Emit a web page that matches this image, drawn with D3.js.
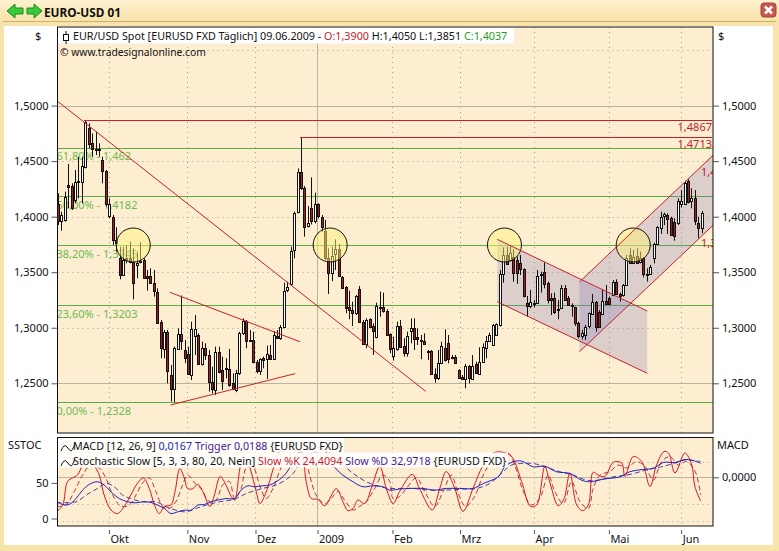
<!DOCTYPE html>
<html><head><meta charset="utf-8">
<script src="https://cdn.jsdelivr.net/npm/d3@7"></script>
<style>
html,body{margin:0;padding:0;background:#fff;overflow:hidden}
svg{display:block}
text{font-family:"Noto Sans",sans-serif;font-size:11px;fill:#111}
</style></head><body><svg id="c" width="779" height="551"></svg>
<script>
const barOpen=[1.411,1.396,1.397,1.4285,1.4276,1.415,1.431,1.4315,1.4441,1.48,
1.466,1.4606,1.461,1.451,1.441,1.40,1.40,1.379,1.363,1.3475,
1.363,1.363,1.359,1.356,1.36,1.361,1.347,1.347,1.34,1.3325,
1.305,1.2815,1.2965,1.2575,1.245,1.2809,1.294,1.28,1.276,1.258,
1.293,1.2935,1.267,1.2815,1.2755,1.251,1.244,1.2785,1.262,1.2635,
1.263,1.25,1.244,1.259,1.295,1.306,1.289,1.289,1.269,1.2605,
1.2725,1.2719,1.2755,1.2719,1.293,1.291,1.301,1.3334,1.3394,1.37,
1.4036,1.4399,1.4255,1.3916,1.4075,1.3955,1.411,1.40,1.387,1.363,
1.3496,1.3664,1.3706,1.346,1.337,1.3184,1.316,1.313,1.3349,1.3055,
1.2854,1.3076,1.3016,1.2914,1.319,1.3184,1.3154,1.2941,1.2746,1.2815,
1.3019,1.2836,1.2776,1.2971,1.3001,1.2914,1.289,1.2884,1.279,1.279,
1.2584,1.2545,1.268,1.2815,1.286,1.2725,1.2734,1.262,1.256,1.2539,
1.2656,1.2545,1.2671,1.259,1.2695,1.2824,1.2884,1.2845,1.2935,1.3025,
1.3481,1.3655,1.3604,1.3634,1.361,1.358,1.3526,1.322,1.3196,1.322,
1.3226,1.3481,1.3505,1.3406,1.3265,1.3265,1.3166,1.3184,1.3361,1.3265,
1.3205,1.3184,1.304,1.2926,1.2935,1.301,1.313,1.3235,1.3145,1.313,
1.3244,1.3271,1.3295,1.3409,1.3304,1.3295,1.3385,1.3655,1.3586,1.3646,
1.3586,1.3625,1.3484,1.3484,1.3625,1.3754,1.3904,1.4006,1.4015,1.3991,
1.3955,1.3946,1.412,1.412,1.4324,1.4135,1.4165,1.394,1.39];
const barHigh=[1.421,1.4045,1.4225,1.4474,1.43,1.442,1.454,1.454,1.4867,1.484,
1.475,1.4765,1.466,1.454,1.442,1.4165,1.4015,1.3904,1.373,1.373,
1.374,1.3775,1.3715,1.3685,1.377,1.3625,1.352,1.3535,1.352,1.3355,
1.307,1.298,1.298,1.2665,1.283,1.2995,1.329,1.289,1.283,1.3055,
1.3115,1.295,1.2875,1.286,1.28,1.265,1.283,1.283,1.274,1.2725,
1.281,1.259,1.262,1.2965,1.3085,1.307,1.298,1.2965,1.271,1.2725,
1.274,1.284,1.2845,1.297,1.298,1.3025,1.3406,1.3415,1.373,1.4045,
1.4435,1.4713,1.4275,1.4096,1.4354,1.4216,1.412,1.4015,1.397,1.3715,
1.373,1.3796,1.3754,1.3466,1.3376,1.3334,1.3235,1.3295,1.3376,1.307,
1.3085,1.3085,1.304,1.3226,1.3325,1.3316,1.3166,1.295,1.292,1.3055,
1.307,1.2905,1.2965,1.3085,1.3085,1.2995,1.2935,1.295,1.28,1.28,
1.2635,1.28,1.2875,1.2986,1.2935,1.2755,1.2755,1.2626,1.2575,1.2674,
1.2665,1.2755,1.2695,1.2824,1.286,1.2926,1.2956,1.3034,1.304,1.352,
1.3724,1.373,1.3736,1.3706,1.364,1.3655,1.3535,1.3286,1.334,1.325,
1.352,1.3505,1.3589,1.3415,1.331,1.3316,1.325,1.3385,1.3385,1.3286,
1.322,1.319,1.3055,1.298,1.3025,1.3136,1.3304,1.3241,1.316,1.334,
1.3385,1.328,1.343,1.3436,1.3316,1.3395,1.3655,1.3715,1.37,1.3715,
1.3685,1.3634,1.3535,1.3565,1.3766,1.3916,1.4045,1.4036,1.403,1.40,
1.3985,1.4165,1.424,1.4324,1.4336,1.4255,1.424,1.40,1.405];
const barLow=[1.3925,1.3874,1.3955,1.4075,1.406,1.412,1.4165,1.412,1.4435,1.4615,
1.454,1.4555,1.454,1.43,1.409,1.3985,1.3745,1.3685,1.3436,1.347,
1.358,1.358,1.3256,1.3445,1.358,1.3445,1.3334,1.34,1.328,1.304,
1.2725,1.2725,1.25,1.2335,1.233,1.28,1.28,1.268,1.2575,1.253,
1.2755,1.2665,1.266,1.271,1.2425,1.241,1.2395,1.259,1.244,1.2545,
1.247,1.244,1.242,1.2575,1.2935,1.2815,1.2875,1.268,1.259,1.2575,
1.2635,1.2539,1.271,1.271,1.2905,1.289,1.2995,1.332,1.338,1.3625,
1.403,1.424,1.382,1.3904,1.393,1.394,1.3985,1.3865,1.361,1.3304,
1.342,1.352,1.346,1.3355,1.313,1.3076,1.3016,1.3115,1.3046,1.2845,
1.2815,1.2995,1.2755,1.2905,1.31,1.3136,1.2926,1.277,1.2704,1.2794,
1.2821,1.274,1.274,1.286,1.28,1.2845,1.2716,1.2845,1.271,1.2575,
1.2506,1.253,1.2674,1.2695,1.268,1.2716,1.2674,1.2539,1.253,1.2455,
1.25,1.253,1.2584,1.2584,1.2686,1.2725,1.2875,1.2845,1.2929,1.301,
1.3406,1.3565,1.3595,1.3415,1.3394,1.3475,1.3274,1.31,1.3175,1.3184,
1.322,1.3316,1.3355,1.322,1.3115,1.3124,1.3076,1.3175,1.325,1.3196,
1.31,1.3016,1.2905,1.2896,1.289,1.2995,1.3115,1.2965,1.3,1.3124,
1.3205,1.3205,1.3285,1.3295,1.3235,1.328,1.3376,1.358,1.3574,1.358,
1.358,1.3454,1.3415,1.3475,1.358,1.3745,1.3844,1.3925,1.3844,1.3826,
1.3784,1.3925,1.4084,1.4105,1.412,1.4075,1.3925,1.3805,1.3851];
const barClose=[1.3955,1.4015,1.418,1.427,1.4075,1.4315,1.432,1.4459,1.4849,1.466,
1.4606,1.46,1.46,1.441,1.411,1.411,1.379,1.3766,1.348,1.361,
1.3616,1.3595,1.34,1.358,1.359,1.345,1.3454,1.3406,1.3325,1.305,
1.2815,1.2965,1.2614,1.245,1.2815,1.294,1.288,1.2725,1.258,1.299,
1.299,1.267,1.2815,1.2755,1.251,1.245,1.2785,1.2605,1.252,1.2626,
1.2485,1.245,1.259,1.295,1.306,1.288,1.288,1.269,1.2605,1.2715,
1.271,1.2761,1.2719,1.2935,1.2914,1.301,1.3334,1.3364,1.3694,1.4036,
1.4399,1.4255,1.3904,1.3946,1.3955,1.411,1.40,1.391,1.363,1.3496,
1.3649,1.3706,1.3466,1.3361,1.3184,1.3154,1.313,1.3286,1.3055,1.2854,
1.307,1.3004,1.2974,1.3196,1.3181,1.3145,1.2935,1.2806,1.2815,1.3019,
1.283,1.2776,1.2929,1.2995,1.2905,1.2896,1.2884,1.2854,1.2785,1.258,
1.2545,1.268,1.2836,1.2704,1.2716,1.2734,1.268,1.2545,1.2545,1.2659,
1.2545,1.2659,1.259,1.2695,1.283,1.2884,1.2935,1.3025,1.3034,1.3481,
1.3655,1.3574,1.367,1.349,1.349,1.3526,1.328,1.319,1.3235,1.3226,
1.3466,1.3469,1.34,1.325,1.325,1.3136,1.3154,1.3361,1.325,1.3205,
1.3196,1.304,1.2926,1.295,1.301,1.313,1.3235,1.301,1.301,1.3244,
1.3214,1.322,1.3409,1.3304,1.3286,1.3385,1.3625,1.3586,1.364,1.3586,
1.3625,1.3484,1.3472,1.355,1.3754,1.3904,1.40,1.4024,1.3976,1.3835,
1.3829,1.4144,1.4144,1.4306,1.4135,1.4165,1.3955,1.3895,1.4037];

const kBars=[0.6,2.4,3.8,5.3,6.7,8.2,10.2,11.6,13.1,14.5,16.5,18.4,20.4,22.3,24.3,26,27.7,29.2,30.6,32.1,34,35.2,36.6,37.9,38.9,40.4,41.8,43.3,45.4,46.7,48.4,50.1,51.6,52.6,54,55,56.4,57.4,58.9,60,61.3,62.8,64.2,65.7,67.2,69.6,72,73.5,75,76.9,78.9,82.3,84.2,85.7,87.2,88.6,90.6,92.5,95,96.9,98.9,100.8,104.5,106.6,110.3,112.5,114.4,116.9,119.3,122.2,125.2,128.1,131,133.5,136.4,139,140.8,143.2,144.7,147.1,148.8,150.5,152.5,154.2,155.9,157.3,158.8,160.7,163.2,165.6,166.6,169,171.5,173.9,175.8,178,179.3,181.2,184.1,186.1,187,188.7];
const kVals=[9,19,52,57,61,75,89,75,61,33,12,7,17,33,50,57,42,19,7,17,19,38,70,57,42,42,48,38,17,33,59,47,31,26,66,89,80,66,38,21,31,52,75,94,96,97,94,52,28,27,18,42,24,11,14,26,21,42,73,42,21,38,62,42,12,42,66,42,10,42,75,92,93,87,52,17,19,73,50,18,28,64,19,11,19,65,61,59,79,78,59,87,80,45,75,94,92,64,92,75,45,24.4];
const dBars=[0.6,3.3,5.8,8.2,10.6,13.1,15,17,19.4,21.9,23.8,25.75,27.7,29.6,31.6,33.5,35.5,37.4,38.9,40.9,42.8,45.2,47.2,49.1,51.1,52.6,54.5,56,57.9,59.9,61.8,63.8,65.7,67.7,70.1,72.5,74.5,76.4,78.9,80.8,82.8,84.7,87.2,89.1,91.1,93.5,95.9,97.9,98.9,100.8,102.7,105.7,108.1,111,113.5,115.9,117.9,120.1,122.7,125.2,129.1,132.5,134.4,136.9,139.3,141.7,144.2,146.1,148.6,151,153.4,155.9,157.3,159.3,162.2,164.6,167.1,170,172.4,174.9,177.3,179.8,182.2,184.6,187.1,188.7];
const dVals=[17,19,38,61,75,71,57,33,17,19,33,50,57,38,17,14,24,47,61,50,42,24,26,47,52,28,42,71,73,47,28,42,66,85,94,99,61,33,21,28,38,26,12,17,24,42,61,52,28,31,42,57,38,17,38,61,35,17,31,61,89,92,75,38,19,28,61,38,21,52,24,14,42,61,66,75,71,80,73,54,80,87,75,80,66,33];
const macdBars=[0.6,2.4,4.3,6.3,8.2,10.6,12.6,14.5,16.5,18.9,21.4,23.8,25.75,28.2,30.1,32.1,34,36,37.9,39.9,41.8,43.8,45.7,47.7,50.1,52.6,54.5,56.5,58.4,60.8,62.8,64.7,66.7,68.6,70.6,72.5,75.5,78.4,81.3,84.2,87.2,90.1,93,95.9,97.9,100.8,103.7,107.6,111,114.4,118.3,122.2,125.2,129.6,131.5,133.9,136.4,139.8,143.2,146.6,150.5,153.9,156.3,160.2,165.1,168,171.9,174.9,177.8,181.2,184.1,186.1,188.7];
const macdVals=[-.0292,-.0324,-.0324,-.0253,-.0153,-.0074,-.0054,-.0093,-.0173,-.0253,-.0292,-.0304,-.0292,-.03,-.0332,-.0372,-.0432,-.0412,-.0392,-.0392,-.0332,-.0324,-.0292,-.0272,-.0253,-.0253,-.0153,-.0101,-.0113,-.0101,-.0093,-.0054,.0006,.0106,.0265,.0325,.0344,.0344,.0145,.0026,-.0054,-.0113,-.0101,-.0113,-.0153,-.014,-.0133,-.0133,-.0153,-.0133,-.0133,-.0133,-.0074,.0006,.0125,.0185,.0193,.0125,.0133,.0066,.0046,-.0034,-.0054,-.0022,.0006,.0066,.0094,.0106,.0177,.0177,.0213,.0205,.0167];
const trigBars=[0.6,6.3,9.2,12.6,15,17.5,19.9,22.3,25.75,29.7,32.6,35.5,38.4,41.3,44.3,48.2,52.6,56,60.8,64.7,68.1,70.1,72.5,76.4,79.8,83.3,87.2,91.1,95,97.9,100.8,104.7,109.6,114.4,119.3,123.2,127.1,130.5,133.4,136.4,139.8,143.2,147.6,151.5,155.4,158.8,163.2,167.1,171,174.4,177.3,180.7,184.1,188.7];
const trigVals=[-.03,-.0292,-.0213,-.0133,-.0074,-.0113,-.0213,-.0253,-.0292,-.0292,-.0352,-.0392,-.0412,-.0372,-.0332,-.0292,-.0261,-.0193,-.0133,-.0093,-.0014,.0066,.0225,.0305,.0305,.0185,.0046,-.0054,-.0113,-.0133,-.0133,-.0133,-.0153,-.0153,-.014,-.0133,-.0074,.0046,.0145,.0165,.0165,.0125,.0066,.0026,-.0034,-.0034,.0006,.0026,.0066,.0106,.0125,.0165,.0205,.0188];

const priceTicks=[1.25,1.30,1.35,1.40,1.45,1.50];
const fibLevels=[1.462,1.4182,1.3745,1.3203,1.2328];
const fibLabels=["61,80% - 1,462","50,00% - 1,4182","38,20% - 1,3745","23,60% - 1,3203","0,00% - 1,2328"];
const monthBars=[15.9,38.8,58.7,76.8,98.7,118.4,140,161.9,183];
const monthLabels=["Okt","Nov","Dez","2009","Feb","Mrz","Apr","Mai","Jun"];
const circleBars=[23,80.5,131.4,169];
const resistance=[[8.6,1.4867,"1,4867"],[71.7,1.4713,"1,4713"]];
const trendLines=[[[0.82,1.5041],[108.4,1.2428]],[[33.7,1.3319],[71.7,1.2874]],[[33.9,1.2305],[70.3,1.2587]]];
const downChannel=[[129.3,1.3796,1.3234],[173.1,1.3151,1.259]];
const upChannel=[[153.3,1.3412,1.2784],[192.4,1.4555,1.3925]];

const svg=d3.select("#c");
const L=57.5,R=713,T=27,B=433,T2=437.5,B2=526;
const x=d3.scaleLinear().domain([1,189]).range([57.9,701.7]);
const y=d3.scaleLinear().domain([1.25,1.5]).range([383.3,105.6]);
const yS=d3.scaleLinear().domain([0,50]).range([518.5,482.9]);
const yM=d3.scaleLinear().domain([0,0.0167]).range([477.3,463.3]);
const fmt=d3.formatLocale({decimal:",",thousands:".",grouping:[3],currency:["","$"]}).format(".4f");

// window chrome
const defs=svg.append("defs");
const g0=defs.append("linearGradient").attr("id","tb").attr("x1",0).attr("x2",0).attr("y1",0).attr("y2",1);
g0.append("stop").attr("offset",0).attr("stop-color","#fdf1cf");
g0.append("stop").attr("offset",1).attr("stop-color","#f8e3a9");
defs.append("clipPath").attr("id","cp1").append("rect").attr("x",L).attr("y",T).attr("width",R-L).attr("height",B-T);
defs.append("clipPath").attr("id","cp2").append("rect").attr("x",L).attr("y",T2).attr("width",R-L).attr("height",B2-T2);
svg.append("rect").attr("width",779).attr("height",551).attr("fill","#f7e4ab");
svg.append("rect").attr("width",779).attr("height",21).attr("fill","url(#tb)");
svg.append("line").attr("x1",3).attr("x2",776).attr("y1",21.5).attr("y2",21.5).attr("stroke","#cfae74");
svg.append("rect").attr("x",4).attr("y",26).attr("width",769).attr("height",519).attr("fill","#fff");
// nav arrows
svg.append("path").attr("d","M7 11 L15 4 L15 8 L23 8 L23 14 L15 14 L15 18 Z").attr("fill","#38c838").attr("stroke","#1a8a1a");
svg.append("path").attr("d","M42 11 L34 4 L34 8 L27 8 L27 14 L34 14 L34 18 Z").attr("fill","#38c838").attr("stroke","#1a8a1a");
svg.append("text").attr("x",44).attr("y",17).attr("font-weight","bold").style("font-size","11.8px").text("EURO-USD 01");
svg.append("rect").attr("x",761).attr("y",3).attr("width",15).attr("height",14).attr("rx",3).attr("fill","#c8574f").attr("stroke","#a0453f");
svg.append("path").attr("d","M765 6.5 L772 13.5 M772 6.5 L765 13.5").attr("stroke","#fff").attr("stroke-width",2.5);

// panels
svg.append("rect").attr("x",L).attr("y",T).attr("width",R-L).attr("height",B-T).attr("fill","#fdeed2");
svg.append("rect").attr("x",L).attr("y",T2).attr("width",R-L).attr("height",B2-T2).attr("fill","#fdeed2");

const p1=svg.append("g").attr("clip-path","url(#cp1)");
const p2=svg.append("g").attr("clip-path","url(#cp2)");

// gridlines
const dotted={stroke:"#a9a08c","stroke-dasharray":"1 4"};
[1.30,1.35,1.40,1.45,1.55].forEach(v=>p1.append("line").attr("x1",L).attr("x2",R).attr("y1",Math.round(y(v))+.5).attr("y2",Math.round(y(v))+.5).attr("stroke",dotted.stroke).attr("stroke-dasharray",dotted["stroke-dasharray"]));
[1.25,1.5].forEach(v=>p1.append("line").attr("x1",L).attr("x2",R).attr("y1",Math.round(y(v))+.5).attr("y2",Math.round(y(v))+.5).attr("stroke","#b9b3a2"));
monthBars.forEach((b,i)=>{
  const X=Math.round(x(b))+.5, solid=monthLabels[i]==="2009";
  [[p1,T,B],[p2,T2,B2]].forEach(([g,a,c])=>{
    const l=g.append("line").attr("x1",X).attr("x2",X).attr("y1",a).attr("y2",c).attr("stroke",solid?"#b9b3a2":dotted.stroke);
    if(!solid) l.attr("stroke-dasharray",dotted["stroke-dasharray"]);
  });
});
// fib levels
p1.selectAll("line.fib").data(fibLevels).join("line").attr("class","fib").attr("x1",L).attr("x2",R)
  .attr("y1",d=>Math.round(y(d))+.5).attr("y2",d=>Math.round(y(d))+.5).attr("stroke","#55b040");
p1.selectAll("text.fib").data(fibLabels).join("text").attr("class","fib").attr("x",L-1)
  .attr("y",(d,i)=>y(fibLevels[i])+12.5).style("fill","#6dbb50").text(d=>d);

// channels shade
const chanArea=c=>`M${x(c[0][0])},${y(c[0][1])}L${x(c[1][0])},${y(c[1][1])}L${x(c[1][0])},${y(c[1][2])}L${x(c[0][0])},${y(c[0][2])}Z`;
[downChannel,upChannel].forEach(c=>p1.append("path").attr("d",chanArea(c)).attr("fill","#8078b8").attr("fill-opacity",.26));

// candles
const bars=barOpen.map((o,i)=>({i:i+1,o,h:barHigh[i],l:barLow[i],c:barClose[i]}));
const cg=p1.append("g").selectAll("g").data(bars).join("g");
cg.append("line").attr("x1",d=>Math.round(x(d.i))+.5).attr("x2",d=>Math.round(x(d.i))+.5)
  .attr("y1",d=>y(d.h)).attr("y2",d=>y(d.l)).attr("stroke","#111");
cg.append("rect").attr("x",d=>Math.round(x(d.i))-.5).attr("width",2)
  .attr("y",d=>Math.round(y(Math.max(d.o,d.c)))+.5)
  .attr("height",d=>Math.max(1,Math.round(Math.abs(y(d.o)-y(d.c)))))
  .attr("fill",d=>d.c>=d.o?"#fff":"#a31f1f").attr("stroke","#111");

// circles
p1.selectAll("circle").data(circleBars).join("circle").attr("cx",d=>x(d)).attr("cy",y(1.3745)).attr("r",17)
  .attr("fill","#fff27a").attr("fill-opacity",.5).attr("stroke","#111");

// red lines
const red="#c8202a";
trendLines.forEach(t=>p1.append("line").attr("x1",x(t[0][0])).attr("y1",y(t[0][1])).attr("x2",x(t[1][0])).attr("y2",y(t[1][1])).attr("stroke",red));
[downChannel,upChannel].forEach(c=>{
  [1,2].forEach(k=>p1.append("line").attr("x1",x(c[0][0])).attr("y1",y(c[0][k])).attr("x2",x(c[1][0])).attr("y2",y(c[1][k])).attr("stroke",red));
});
resistance.forEach(r=>{
  const Y=Math.round(y(r[1]))+.5;
  p1.append("line").attr("x1",x(r[0])).attr("x2",R-1).attr("y1",Y).attr("y2",Y).attr("stroke",red);
  p1.append("text").attr("x",R-1).attr("y",Y+10.5).attr("text-anchor","end").style("fill",red).text(r[2]);
});
p1.append("text").attr("x",701).attr("y",176).style("fill",red).text("1,4");
p1.append("text").attr("x",701).attr("y",247).style("fill",red).text("1,3");

// header price
svg.append("rect").attr("x",L+.5).attr("y",T+.5).attr("width",456).attr("height",16).attr("fill","#fff");
const hd=svg.append("text").attr("x",73).attr("y",40).style("font-size","10.75px");
[["EUR/USD Spot [EURUSD FXD  Täglich] 09.06.2009 - ","#111"],["O:1,3900 ","#c8202a"],["H:1,4050 L:1,3851 ","#111"],["C:1,4037","#22a022"]]
 .forEach(s=>hd.append("tspan").style("fill",s[1]).style("font-size","10.75px").text(s[0]));
svg.append("path").attr("d","M66 31V44").attr("stroke","#111");
svg.append("rect").attr("x",63.5).attr("y",34.5).attr("width",5).attr("height",6).attr("fill","#fff").attr("stroke","#111");
svg.append("text").attr("x",60).attr("y",56).style("font-size","10.3px").text("© www.tradesignalonline.com");

// indicators
[20,80].forEach(v=>p2.append("line").attr("x1",L).attr("x2",R).attr("y1",Math.round(yS(v))+.5).attr("y2",Math.round(yS(v))+.5).attr("stroke",dotted.stroke).attr("stroke-dasharray",dotted["stroke-dasharray"]));
p2.append("line").attr("x1",L).attr("x2",R).attr("y1",521.5).attr("y2",521.5).attr("stroke",dotted.stroke).attr("stroke-dasharray",dotted["stroke-dasharray"]);
p2.append("line").attr("x1",L).attr("x2",R).attr("y1",Math.round(yM(0))+.5).attr("y2",Math.round(yM(0))+.5).attr("stroke","#b9b3a2");
const ln=(xs,ys,sc)=>d3.line().x((d,i)=>x(xs[i])).y(d=>sc(d)).curve(d3.curveCatmullRom)(ys);
p2.append("path").attr("d",ln(trigBars,trigVals,yM)).attr("fill","none").attr("stroke","#3a2a9a").attr("stroke-width",.9).attr("stroke-dasharray","5 3");
p2.append("path").attr("d",ln(dBars,dVals,yS)).attr("fill","none").attr("stroke","#b02030").attr("stroke-width",.9).attr("stroke-dasharray","5 3");
p2.append("path").attr("d",ln(kBars,kVals,yS)).attr("fill","none").attr("stroke","#d8141f");
p2.append("path").attr("d",ln(macdBars,macdVals,yM)).attr("fill","none").attr("stroke","#2020c0");

svg.append("rect").attr("x",L+.5).attr("y",T2+.5).attr("width",286).attr("height",14).attr("fill","#fff").attr("fill-opacity",.9);
svg.append("rect").attr("x",L+.5).attr("y",T2+15).attr("width",450).attr("height",15).attr("fill","#fff").attr("fill-opacity",.9);
const squig=y0=>svg.append("path").attr("d",`M61 ${y0}q3 -8 6 -4t4 4t4 -7`).attr("fill","none").attr("stroke","#111");
squig(451);squig(466);
const m1=svg.append("text").attr("x",73).attr("y",450);
[["MACD [12, 26, 9] ","#111"],["0,0167 ","#1c2ab0"],["Trigger 0,0188 ","#4a1a90"],["{EURUSD FXD}","#111"]]
 .forEach(s=>m1.append("tspan").style("fill",s[1]).style("font-size","10.72px").text(s[0]));
const m2=svg.append("text").attr("x",73).attr("y",465);
[["Stochastic Slow [5, 3, 3, 80, 20, Nein] ","#111"],["Slow %K 24,4094 ","#c8202a"],["Slow %D 32,9718 ","#4a1a90"],["{EURUSD FXD}","#111"]]
 .forEach(s=>m2.append("tspan").style("fill",s[1]).style("font-size","10.75px").text(s[0]));

// frames
[[T,B],[T2,B2]].forEach(([a,c])=>svg.append("rect").attr("x",L).attr("y",a).attr("width",R-L).attr("height",c-a).attr("fill","none").attr("stroke","#111"));

// axes
const style=g=>{g.select(".domain").remove();g.selectAll("line").attr("stroke","#555");g.selectAll("text").style("font-size","11px");};
svg.append("g").attr("transform",`translate(${L},0)`).call(d3.axisLeft(y).tickValues(priceTicks).tickFormat(fmt).tickSize(6).tickPadding(3)).call(style);
svg.append("g").attr("transform",`translate(${R},0)`).call(d3.axisRight(y).tickValues(priceTicks).tickFormat(fmt).tickSize(6).tickPadding(3)).call(style);
svg.append("g").attr("transform",`translate(${L},0)`).call(d3.axisLeft(yS).tickValues([0,50]).tickFormat(d3.format("d")).tickSize(6).tickPadding(3)).call(style);
svg.append("g").attr("transform",`translate(${R},0)`).call(d3.axisRight(yM).tickValues([0]).tickFormat(fmt).tickSize(6).tickPadding(3)).call(style);
const ax=svg.append("g").attr("transform",`translate(0,${B2+4})`).call(d3.axisBottom(x).tickValues(monthBars).tickFormat((d,i)=>monthLabels[i]).tickSize(4).tickPadding(1)).call(style);
ax.selectAll("text").attr("text-anchor","start").attr("dx",1);
svg.append("text").attr("x",35).attr("y",40).text("$");
svg.append("text").attr("x",718).attr("y",40).text("$");
svg.append("text").attr("x",8).attr("y",449).text("SSTOC");
svg.append("text").attr("x",717).attr("y",449).text("MACD");
</script></body></html>
